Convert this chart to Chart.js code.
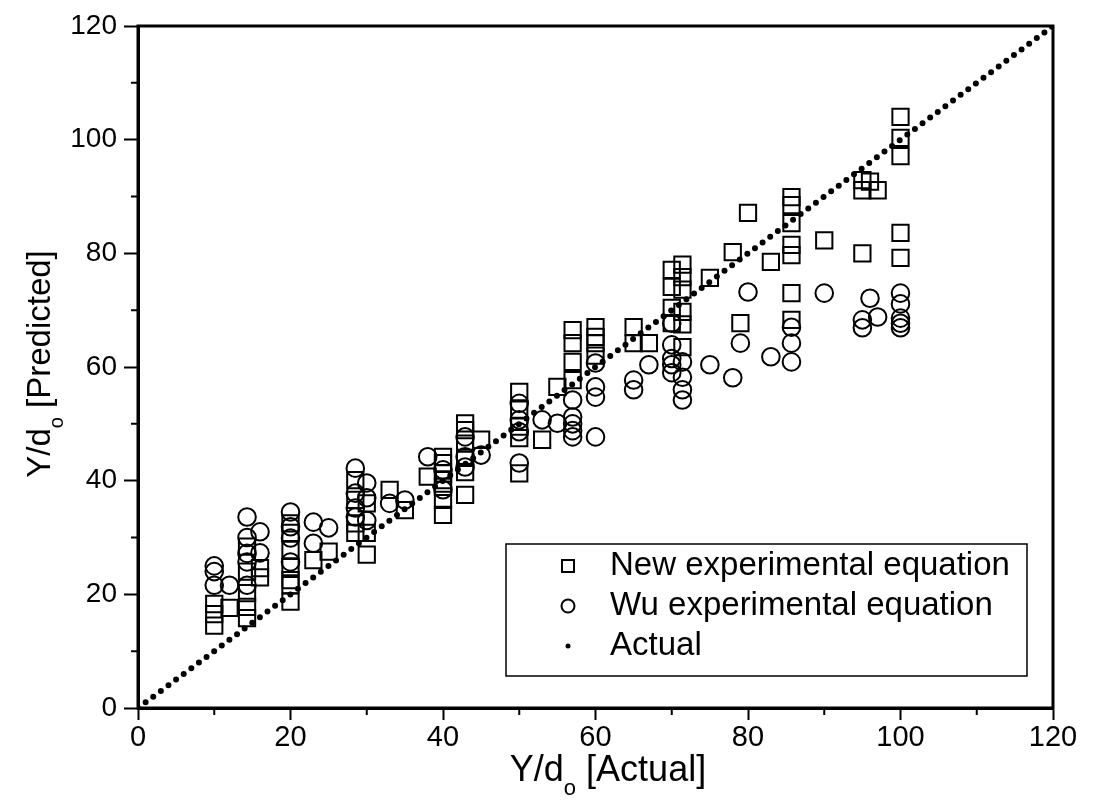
<!DOCTYPE html>
<html>
<head>
<meta charset="utf-8">
<title>Y/do predicted vs actual</title>
<script src="https://cdn.jsdelivr.net/npm/chart.js@4.4.0/dist/chart.umd.min.js"></script>
<style>
  html, body { margin: 0; padding: 0; background: #fff; }
  #wrap { width: 1106px; height: 803px; }
</style>
</head>
<body>
<div id="wrap"><canvas id="myChart" width="1106" height="803"></canvas></div>
<script>
// actual Y/do of each test group
const actualValues = [10, 12, 14.3, 16, 20, 23, 25, 28.5, 30, 33, 35, 38, 40, 42.9, 45, 50, 53, 55, 57, 60,
  65, 67, 70, 71.4, 75, 78, 79, 80, 83, 85.7, 90, 95, 96, 97, 100];

// predicted Y/do, new experimental equation (one list per group)
const newPredicted = [
  [18.3, 16.5, 14.5], [17.6], [28.4, 24, 20.2, 17.8, 15.8], [24.6, 23],
  [32.5, 30.8, 27.8, 24.8, 22.5, 21.6, 18.7], [26], [27.5], [40.1, 36.6, 32.5, 30.8],
  [36, 30.8, 27], [38.4], [34.8], [40.7], [44.2, 43.1, 41.3, 40.1, 38.9, 36.6, 34],
  [50.1, 48.9, 46.5, 44, 41.5, 37.5], [47.2], [55.6, 52.5, 49.5, 47.5, 41.3], [47.2], [56.5],
  [66.5, 64.2, 60.9, 57.7], [67, 65.3, 64.2, 62], [67, 64.2], [64.2], [77.1, 74.1, 70.4, 67.7],
  [78, 75.8, 73.6, 69.7, 67.5, 63.5], [75.7], [80.2], [67.7], [87.1], [78.5],
  [89.9, 88.5, 85.3, 81.5, 79.7, 73, 68.3], [82.3], [92.9, 91.1, 80], [92.6], [91.1],
  [104, 100.3, 97.1, 83.6, 79.2]
];

// predicted Y/do, Wu experimental equation
const wuPredicted = [
  [25, 24, 21.6], [21.6], [33.6, 30, 27.2, 25.7, 21.6], [31, 27.3],
  [34.5, 31.9, 29.9, 25.7], [32.7, 29], [31.7], [42.2, 37.8, 35.2, 33.6],
  [39.6, 37, 33], [36], [36.6], [44.2], [41.9, 38.4],
  [47.7, 44.2, 42.4], [44.5], [53.6, 50.7, 48.6, 43.1], [50.7], [50.1],
  [54.2, 51.2, 50, 48.8, 47.7], [60.7, 56.5, 54.7, 47.7], [57.7, 56], [60.4], [67.7, 63.9, 61.5, 60.4, 59],
  [60.9, 58.2, 56, 54.2], [60.4], [58.1], [64.2], [73.2], [61.8],
  [67, 64.2, 60.9], [73], [68.3, 66.9], [72.1], [68.8],
  [73, 71.1, 68.6, 67.7, 66.9]
];

// y = x reference line
const actualLine = [0, 120];

const axisMin = 0;
const axisMax = 120;
const majorStep = 20;
const minorTicks = [10, 30, 50, 70, 90, 110];

const legendLabels = ['New experimental equation', 'Wu experimental equation', 'Actual'];

function toPoints(groups) {
  const pts = [];
  groups.forEach((ys, i) => ys.forEach(y => pts.push({ x: actualValues[i], y: y })));
  return pts;
}

const FONT = '"Liberation Sans", Arial, sans-serif';

// box frame, minor ticks, axis titles with subscript, legend
const decorations = {
  id: 'decorations',
  afterDraw(chart) {
    const { ctx, chartArea: a, scales: { x, y } } = chart;
    ctx.save();
    ctx.strokeStyle = '#000';
    ctx.fillStyle = '#000';

    ctx.lineWidth = 3;
    ctx.strokeRect(a.left, a.top, a.right - a.left, a.bottom - a.top);

    ctx.lineWidth = 2;
    ctx.beginPath();
    minorTicks.forEach(v => {
      const px = x.getPixelForValue(v);
      ctx.moveTo(px, a.bottom);
      ctx.lineTo(px, a.bottom + 7);
      const py = y.getPixelForValue(v);
      ctx.moveTo(a.left, py);
      ctx.lineTo(a.left - 7, py);
    });
    ctx.stroke();

    drawSubTitle(ctx, 608, 771, 0, 'Y/d', 'o', ' [Actual]', 36);
    drawSubTitle(ctx, 41, 364, -Math.PI / 2, 'Y/d', 'o', ' [Predicted]', 33);

    // legend
    const bx = 506, by = 544, bw = 521, bh = 132;
    ctx.fillStyle = '#fff';
    ctx.fillRect(bx, by, bw, bh);
    ctx.lineWidth = 1.5;
    ctx.strokeRect(bx, by, bw, bh);
    const rows = [566, 606, 646];
    const mx = 568;
    ctx.lineWidth = 2;
    ctx.strokeRect(mx - 6, rows[0] - 6, 12, 12);
    ctx.beginPath();
    ctx.arc(mx, rows[1], 6.5, 0, Math.PI * 2);
    ctx.stroke();
    ctx.fillStyle = '#000';
    ctx.beginPath();
    ctx.arc(mx, rows[2], 2.5, 0, Math.PI * 2);
    ctx.fill();
    ctx.font = '33px ' + FONT;
    ctx.textAlign = 'left';
    ctx.textBaseline = 'middle';
    legendLabels.forEach((t, i) => ctx.fillText(t, 610, rows[i]));
    ctx.restore();
  }
};

function drawSubTitle(ctx, cx, cy, rot, a, sub, b, size) {
  ctx.save();
  ctx.translate(cx, cy);
  ctx.rotate(rot);
  ctx.fillStyle = '#000';
  ctx.textBaseline = 'middle';
  ctx.textAlign = 'left';
  const big = size + 'px ' + FONT;
  const small = Math.round(size * 0.62) + 'px ' + FONT;
  ctx.font = big;
  const wa = ctx.measureText(a).width;
  const wb = ctx.measureText(b).width;
  ctx.font = small;
  const ws = ctx.measureText(sub).width;
  const x0 = -(wa + ws + wb) / 2;
  ctx.font = big;
  ctx.fillText(a, x0, 0);
  ctx.font = small;
  ctx.fillText(sub, x0 + wa, size * 0.5);
  ctx.font = big;
  ctx.fillText(b, x0 + wa + ws, 0);
  ctx.restore();
}

new Chart('myChart', {
  type: 'scatter',
  data: {
    datasets: [
      {
        label: legendLabels[0],
        data: toPoints(newPredicted),
        pointStyle: 'rect',
        pointRadius: 11.5,
        borderWidth: 2,
        borderColor: '#000',
        backgroundColor: 'rgba(0,0,0,0)'
      },
      {
        label: legendLabels[1],
        data: toPoints(wuPredicted),
        pointStyle: 'circle',
        pointRadius: 8.8,
        borderWidth: 2,
        borderColor: '#000',
        backgroundColor: 'rgba(0,0,0,0)'
      },
      {
        label: legendLabels[2],
        data: actualLine.map(v => ({ x: v, y: v })),
        showLine: true,
        pointRadius: 0,
        borderColor: '#000',
        borderWidth: 6,
        borderCapStyle: 'round',
        borderDash: [0, 9.5]
      }
    ]
  },
  options: {
    responsive: false,
    animation: false,
    layout: { padding: { top: 26, right: 53, left: 0, bottom: 0 } },
    plugins: { legend: { display: false }, tooltip: { enabled: false } },
    scales: {
      x: {
        type: 'linear',
        min: axisMin,
        max: axisMax,
        ticks: { stepSize: majorStep, color: '#000', padding: 1, maxRotation: 0, font: { family: FONT, size: 29 } },
        grid: { drawOnChartArea: false, tickLength: 12, tickWidth: 2, tickColor: '#000' },
        border: { color: '#000', width: 3 },
        afterFit: s => { s.height = 95; }
      },
      y: {
        type: 'linear',
        min: axisMin,
        max: axisMax,
        ticks: { stepSize: majorStep, color: '#000', padding: 7, font: { family: FONT, size: 28 } },
        grid: { drawOnChartArea: false, tickLength: 14, tickWidth: 2, tickColor: '#000' },
        border: { color: '#000', width: 3 },
        afterFit: s => { s.width = 138; }
      }
    }
  },
  plugins: [decorations]
});
</script>
</body>
</html>
